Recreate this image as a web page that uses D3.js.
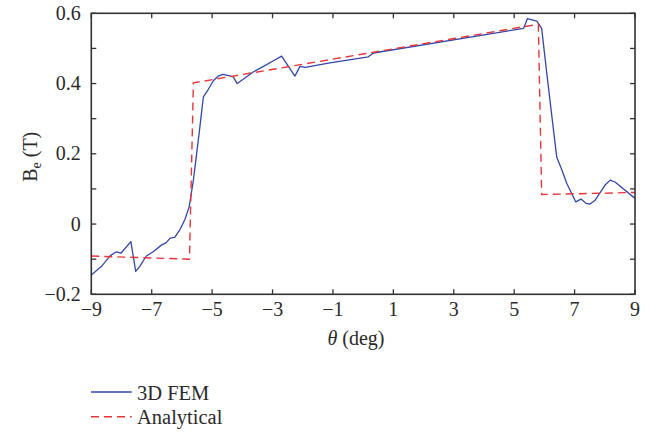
<!DOCTYPE html>
<html>
<head>
<meta charset="utf-8">
<script src="https://cdn.jsdelivr.net/npm/d3@7"></script>
<style>
  html, body { margin: 0; padding: 0; background: #fff; }
  svg { display: block; }
  text { font-family: "Liberation Serif", "Times New Roman", serif; fill: #2a2a2a; }
</style>
</head>
<body>
<svg id="chart" width="651" height="436"></svg>
<script>
// Electrical angle (deg) and air-gap flux density Be (T) from the 3D FEM model
const femTheta = [-9, -8.67, -8.37, -8.17, -8.02, -7.69, -7.53, -7.40, -7.18, -6.95, -6.68, -6.52, -6.39, -6.24, -6.06, -5.90,
  -5.76, -5.62, -5.43, -5.29, -5.13, -4.96, -4.80, -4.65, -4.41, -4.30, -4.17, -3.97, -3.64, -3.30, -2.97, -2.70,
  -2.26, -2.09, -1.92, -1.10, 0.17, 0.34, 5.31, 5.44, 5.75, 5.91, 6.08, 6.25, 6.41, 6.58, 6.74, 7.04, 7.21, 7.38,
  7.51, 7.68, 8.01, 8.18, 8.35, 9.0];
const femBe = [-0.145, -0.121, -0.090, -0.079, -0.083, -0.050, -0.135, -0.121, -0.091, -0.079, -0.060, -0.053, -0.040, -0.038, -0.015, 0.013,
  0.049, 0.125, 0.258, 0.362, 0.383, 0.408, 0.421, 0.426, 0.422, 0.419, 0.400, 0.412, 0.433, 0.449, 0.465, 0.478,
  0.421, 0.449, 0.446, 0.459, 0.476, 0.487, 0.557, 0.585, 0.578, 0.557, 0.429, 0.305, 0.190, 0.154, 0.116, 0.063, 0.071, 0.059,
  0.057, 0.068, 0.111, 0.125, 0.119, 0.073];

// Analytical model: piecewise linear profile
const anaTheta = [-9, -5.75, -5.62, 5.80, 5.91, 9];
const anaBe = [-0.091, -0.100, 0.402, 0.569, 0.084, 0.090];

// Axis ticks
const xTicks = [-9, -7, -5, -3, -1, 1, 3, 5, 7, 9];
const yTicks = [-0.2, 0, 0.2, 0.4, 0.6];
const yMinorTicks = [-0.2, -0.1, 0, 0.1, 0.2, 0.3, 0.4, 0.5, 0.6];

const seriesNames = ["3D FEM", "Analytical"];
const seriesColors = ["#3447a8", "#e8353a"];

const svg = d3.select("#chart");
const plotLeft = 91.3, plotRight = 635, plotTop = 13.3, plotBottom = 294.3;

const x = d3.scaleLinear().domain([-9, 9]).range([plotLeft, plotRight]);
const y = d3.scaleLinear().domain([-0.2, 0.6]).range([plotBottom, plotTop]);

const fmt = v => (v < 0 ? "\u2212" : "") + String(Math.abs(v));

svg.append("defs").append("clipPath").attr("id", "plot-clip")
  .append("rect").attr("x", plotLeft).attr("y", plotTop)
  .attr("width", plotRight - plotLeft).attr("height", plotBottom - plotTop);

const axisColor = "#333";
const tickLen = 5;

// Ticks pointing inward on all four sides
const ticks = svg.append("g").attr("stroke", axisColor).attr("stroke-width", 1.3);
xTicks.forEach(t => {
  ticks.append("line").attr("x1", x(t)).attr("x2", x(t)).attr("y1", plotBottom).attr("y2", plotBottom - tickLen);
  ticks.append("line").attr("x1", x(t)).attr("x2", x(t)).attr("y1", plotTop).attr("y2", plotTop + tickLen);
});
yMinorTicks.forEach(t => {
  ticks.append("line").attr("x1", plotLeft).attr("x2", plotLeft + tickLen).attr("y1", y(t)).attr("y2", y(t));
  ticks.append("line").attr("x1", plotRight).attr("x2", plotRight - tickLen).attr("y1", y(t)).attr("y2", y(t));
});

// Series lines
const g = svg.append("g").attr("clip-path", "url(#plot-clip)");
const line = d3.line().x(d => x(d[0])).y(d => y(d[1]));

g.append("path")
  .datum(femTheta.map((t, i) => [t, femBe[i]]))
  .attr("d", line)
  .attr("fill", "none")
  .attr("stroke", seriesColors[0])
  .attr("stroke-width", 1.3)
  .attr("stroke-linejoin", "round");

g.append("path")
  .datum(anaTheta.map((t, i) => [t, anaBe[i]]))
  .attr("d", line)
  .attr("fill", "none")
  .attr("stroke", seriesColors[1])
  .attr("stroke-width", 1.4)
  .attr("stroke-dasharray", "8,5");

// Frame
svg.append("rect")
  .attr("x", plotLeft).attr("y", plotTop)
  .attr("width", plotRight - plotLeft).attr("height", plotBottom - plotTop)
  .attr("fill", "none").attr("stroke", axisColor).attr("stroke-width", 1.6);

// Tick labels
const fontSize = 20;
svg.append("g").selectAll("text").data(xTicks).join("text")
  .attr("x", d => x(d)).attr("y", 316)
  .attr("text-anchor", "middle")
  .attr("font-size", fontSize)
  .text(d => fmt(d));

svg.append("g").selectAll("text").data(yTicks).join("text")
  .attr("x", plotLeft - 10.5).attr("y", d => y(d) + 6.5)
  .attr("text-anchor", "end")
  .attr("font-size", fontSize)
  .text(d => fmt(d));

// Axis titles
const xt = svg.append("text").attr("x", 356).attr("y", 345).attr("text-anchor", "middle").attr("font-size", fontSize);
xt.append("tspan").attr("font-style", "italic").text("\u03b8");
xt.append("tspan").text(" (deg)");

const yt = svg.append("text")
  .attr("transform", `translate(37, ${(plotTop + plotBottom) / 2 + 3}) rotate(-90)`)
  .attr("text-anchor", "middle").attr("font-size", fontSize);
yt.append("tspan").text("B");
yt.append("tspan").attr("font-size", 14).attr("dy", 4).text("e");
yt.append("tspan").attr("dy", -4).text(" (T)");

// Legend
const legend = svg.append("g");
seriesNames.forEach((name, i) => {
  const ly = 392 + i * 24.7;
  legend.append("line")
    .attr("x1", 91).attr("x2", 131.7).attr("y1", ly).attr("y2", ly)
    .attr("stroke", seriesColors[i]).attr("stroke-width", 1.4)
    .attr("stroke-dasharray", i === 1 ? "8,5" : null);
  legend.append("text")
    .attr("x", 137).attr("y", ly + 7.5)
    .attr("font-size", 20.5)
    .text(name);
});
</script>
</body>
</html>
